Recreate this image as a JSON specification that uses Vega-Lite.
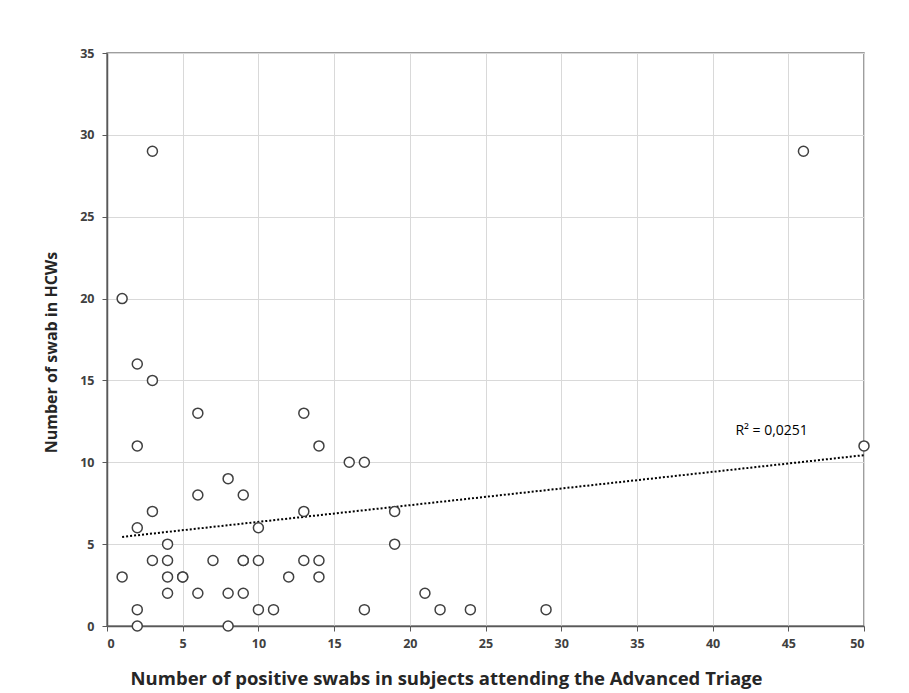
{
  "$schema": "https://vega.github.io/schema/vega-lite/v6.json",
  "width": 757,
  "height": 573,
  "autosize": {"type": "none"},
  "padding": {"left": 107, "top": 53, "right": 45, "bottom": 67},
  "background": "white",
  "config": {
    "view": {"stroke": "#7f7f7f", "strokeWidth": 1.5},
    "font": "Open Sans",
    "axis": {
      "gridColor": "#d9d9d9",
      "gridWidth": 1,
      "domainColor": "#595959",
      "domainWidth": 1.5,
      "tickColor": "#595959",
      "tickSize": 5,
      "labelFont": "Open Sans",
      "labelFontWeight": "bold",
      "labelColor": "#404040",
      "labelFontSize": 12.5,
      "titleFont": "Open Sans",
      "titleFontWeight": "bold",
      "titleColor": "#262626"
    }
  },
  "datasets": {
    "pts": [
      {"x": 1, "y": 20}, {"x": 3, "y": 29}, {"x": 46, "y": 29}, {"x": 2, "y": 16},
      {"x": 3, "y": 15}, {"x": 6, "y": 13}, {"x": 13, "y": 13}, {"x": 2, "y": 11},
      {"x": 14, "y": 11}, {"x": 50, "y": 11}, {"x": 16, "y": 10}, {"x": 17, "y": 10},
      {"x": 8, "y": 9}, {"x": 6, "y": 8}, {"x": 9, "y": 8}, {"x": 3, "y": 7},
      {"x": 13, "y": 7}, {"x": 19, "y": 7}, {"x": 2, "y": 6}, {"x": 10, "y": 6},
      {"x": 4, "y": 5}, {"x": 19, "y": 5}, {"x": 3, "y": 4}, {"x": 4, "y": 4},
      {"x": 7, "y": 4}, {"x": 9, "y": 4}, {"x": 9, "y": 4}, {"x": 10, "y": 4},
      {"x": 13, "y": 4}, {"x": 14, "y": 4}, {"x": 1, "y": 3}, {"x": 4, "y": 3},
      {"x": 5, "y": 3}, {"x": 5, "y": 3}, {"x": 12, "y": 3}, {"x": 14, "y": 3},
      {"x": 4, "y": 2}, {"x": 6, "y": 2}, {"x": 8, "y": 2}, {"x": 9, "y": 2},
      {"x": 21, "y": 2}, {"x": 2, "y": 1}, {"x": 10, "y": 1}, {"x": 11, "y": 1},
      {"x": 17, "y": 1}, {"x": 22, "y": 1}, {"x": 24, "y": 1}, {"x": 29, "y": 1},
      {"x": 2, "y": 0}, {"x": 8, "y": 0}
    ],
    "label": [{"x": 43.9, "y": 11.9, "t": "R² = 0,0251"}]
  },
  "layer": [
    {
      "data": {"name": "pts"},
      "transform": [{"regression": "y", "on": "x"}],
      "mark": {"type": "line", "color": "#000000", "strokeWidth": 2, "strokeDash": [2, 2]},
      "encoding": {
        "x": {"field": "x", "type": "quantitative", "scale": {"domain": [0, 50], "nice": false},
          "axis": {"values": [0,5,10,15,20,25,30,35,40,45,50], "title": "Number of positive swabs in subjects attending the Advanced Triage", "titleFontSize": 18.5, "titlePadding": 20, "titleX": 339, "labelPadding": 6}},
        "y": {"field": "y", "type": "quantitative", "scale": {"domain": [0, 35], "nice": false},
          "axis": {"values": [0,5,10,15,20,25,30,35], "title": "Number of swab in HCWs", "titleFontSize": 16, "titlePadding": 20, "titleY": 299, "labelPadding": 8}}
      }
    },
    {
      "data": {"name": "pts"},
      "mark": {"type": "point", "shape": "circle", "filled": false, "fill": "white", "fillOpacity": 1, "stroke": "#404040", "strokeWidth": 1.5, "size": 100, "opacity": 1},
      "encoding": {
        "x": {"field": "x", "type": "quantitative"},
        "y": {"field": "y", "type": "quantitative"}
      }
    },
    {
      "data": {"name": "label"},
      "mark": {"type": "text", "fontSize": 14, "fontWeight": "normal", "color": "#000000", "font": "Open Sans"},
      "encoding": {
        "x": {"field": "x", "type": "quantitative"},
        "y": {"field": "y", "type": "quantitative"},
        "text": {"field": "t"}
      }
    }
  ]
}
